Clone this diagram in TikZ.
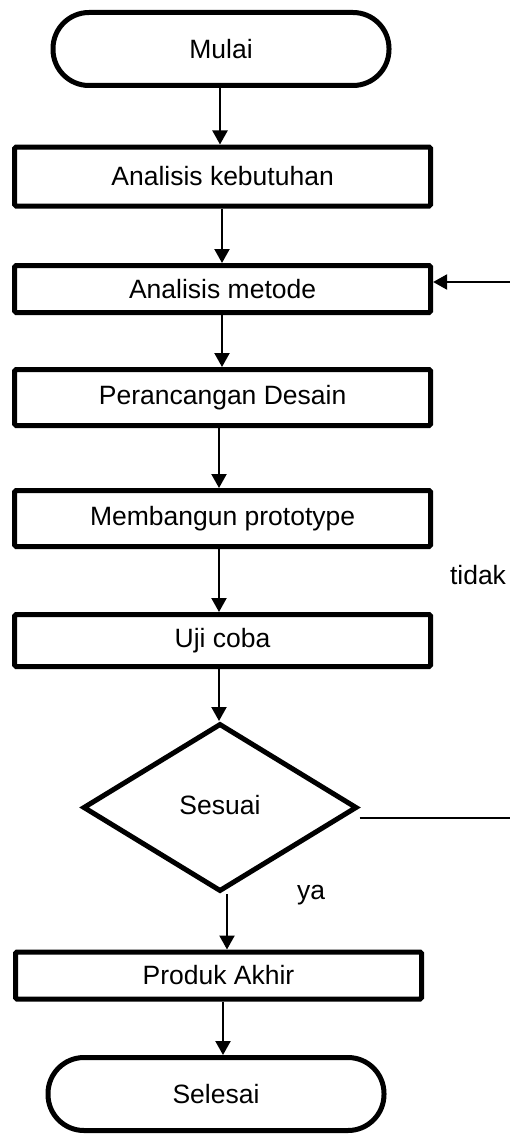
\documentclass[tikz,border=0pt]{standalone}
\usepackage{fontspec}
\setmainfont{Liberation Sans}
\usetikzlibrary{arrows.meta,shapes.geometric}
\tikzset{
  boxnode/.style={draw, line width=5pt, rectangle, rounded corners=1.5pt, inner sep=0pt, anchor=center, font=\fontsize{26.5}{30}\selectfont},
  termnode/.style={draw, line width=5pt, rectangle, rounded corners=36pt, inner sep=0pt, minimum width=336pt, minimum height=73pt, font=\fontsize{26.5}{30}\selectfont},
  decnode/.style={draw, line width=5pt, diamond, inner sep=0pt, minimum width=274pt, minimum height=168pt, font=\fontsize{26.5}{30}\selectfont},
  lbl/.style={font=\fontsize{26.5}{30}\selectfont, inner sep=0pt},
  arr/.style={line width=2.2pt, -{Triangle[width=15pt,length=14pt]}},
  ln/.style={line width=2.2pt}
}
\begin{document}
\begin{tikzpicture}[x=1pt,y=-1pt]
\useasboundingbox (0,0) rectangle (510,1137);
\node[termnode] (mulai) at (221,49) {Mulai};
\node[boxnode, minimum width=416pt, minimum height=59pt] (ak) at (222.6,176.5) {Analisis kebutuhan};
\node[boxnode, minimum width=416pt, minimum height=47pt] (am) at (222.6,289) {Analisis metode};
\node[boxnode, minimum width=416pt, minimum height=56pt] (pd) at (222.6,397.5) {Perancangan Desain};
\node[boxnode, minimum width=416pt, minimum height=56pt] (mp) at (222.6,518.5) {Membangun prototype};
\node[boxnode, minimum width=416pt, minimum height=52pt] (uc) at (222.6,640.5) {Uji coba};
\node[decnode] (dec) at (220,807.5) {\raisebox{6pt}{Sesuai}};
\node[boxnode, minimum width=406pt, minimum height=47pt] (pa) at (218.5,975.5) {\raisebox{-3pt}{Produk Akhir}};
\node[termnode] (sel) at (216,1094) {Selesai};
\node[lbl] (tidak) at (478,575) {tidak};
\node[lbl] (ya) at (311,895) {ya};
\coordinate (r1) at (512,282);
\coordinate (r2) at (512,818);
\coordinate (c1) at (220,0);
\coordinate (c2) at (222,0);
\coordinate (c3) at (219,0);
\coordinate (c4) at (227,0);
\coordinate (c5) at (223,0);
\draw[arr] (c1 |- mulai.south) -- (c1 |- ak.north);
\draw[arr] (c2 |- ak.south) -- (c2 |- am.north);
\draw[arr] (c2 |- am.south) -- (c2 |- pd.north);
\draw[arr] (c3 |- pd.south) -- (c3 |- mp.north);
\draw[arr] (c3 |- mp.south) -- (c3 |- uc.north);
\draw[arr] (c3 |- uc.south) -- (c3 |- dec.north);
\draw[arr] (c4 |- dec.south) -- (c4 |- pa.north);
\draw[arr] (c5 |- pa.south) -- (c5 |- sel.north);
\draw[arr] (r1) -- (r1 -| am.east);
\draw[ln] (r2 -| dec.east) -- (r2);
\end{tikzpicture}
\end{document}
